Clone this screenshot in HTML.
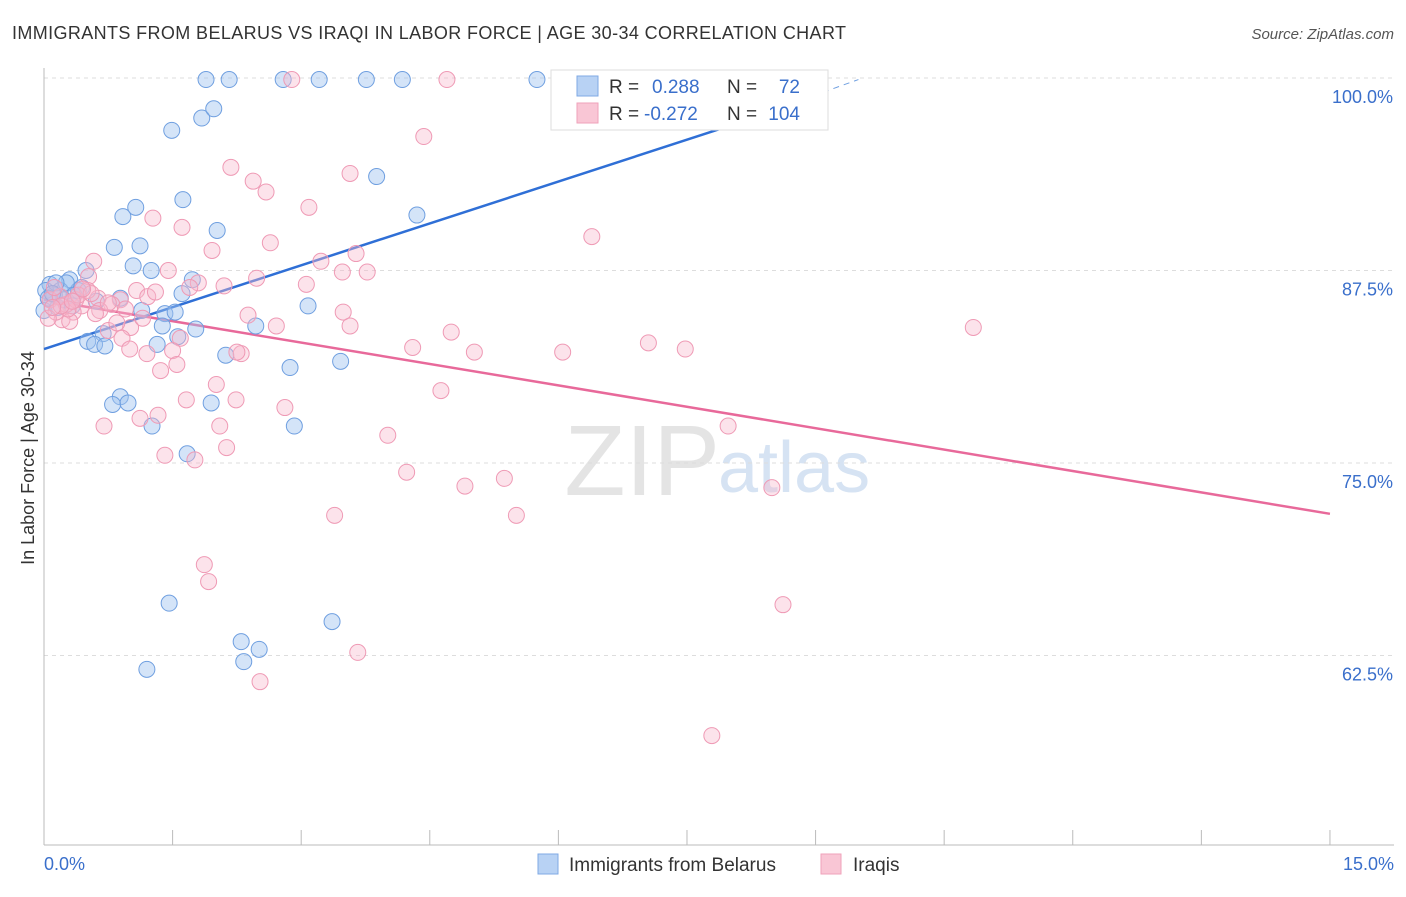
<!DOCTYPE html>
<html><head><meta charset="utf-8"><style>
body{margin:0;background:#fff;font-family:"Liberation Sans",sans-serif;}
svg text{font-family:"Liberation Sans",sans-serif;}
</style></head><body>
<svg id="chart" width="1406" height="892" xmlns="http://www.w3.org/2000/svg">
<text x="12" y="39" font-size="18" fill="#333" textLength="834" lengthAdjust="spacing">IMMIGRANTS FROM BELARUS VS IRAQI IN LABOR FORCE | AGE 30-34 CORRELATION CHART</text>
<text x="1394" y="39" font-size="15" fill="#555" font-style="italic" text-anchor="end">Source: ZipAtlas.com</text>
<text x="720" y="495" font-size="100" fill="#e4e4e4" text-anchor="end" font-family="Liberation Serif">ZIP</text>
<text x="718" y="492" font-size="72" fill="#d6e3f3">atlas</text>
<text transform="translate(34,458) rotate(-90)" font-size="18" fill="#333" text-anchor="middle">In Labor Force | Age 30-34</text>
<g id="grid"></g><g id="ticks"></g><g id="trend"></g><g id="pts"></g>
<g>
<rect x="551" y="70" width="277" height="60" fill="#fff" stroke="#ddd"/>
<rect x="577" y="76" width="21" height="20" fill="#b8d2f4" stroke="#7fa9e4"/>
<rect x="577" y="103" width="21" height="20" fill="#f9c6d5" stroke="#efa2ba"/>
<text x="609" y="93" font-size="19" fill="#333">R =</text>
<text x="652" y="93" font-size="19" fill="#3a6fcb">0.288</text>
<text x="727" y="93" font-size="19" fill="#333">N =</text>
<text x="800" y="93" font-size="19" fill="#3a6fcb" text-anchor="end">72</text>
<text x="609" y="120" font-size="19" fill="#333">R =</text>
<text x="644" y="120" font-size="19" fill="#3a6fcb">-0.272</text>
<text x="727" y="120" font-size="19" fill="#333">N =</text>
<text x="800" y="120" font-size="19" fill="#3a6fcb" text-anchor="end">104</text>
</g>
<g>
<rect x="538" y="854" width="20" height="20" fill="#b8d2f4" stroke="#7fa9e4"/>
<text x="569" y="871" font-size="19" fill="#333">Immigrants from Belarus</text>
<rect x="821" y="854" width="20" height="20" fill="#f9c6d5" stroke="#efa2ba"/>
<text x="853" y="871" font-size="19" fill="#333">Iraqis</text>
</g>
</svg>
<script>
const yTicks=[62.5,75,87.5,100];
const yTickLabels=["62.5%","75.0%","87.5%","100.0%"];
const xTicks=[0,1.5,3,4.5,6,7.5,9,10.5,12,13.5,15];
const blueX=[1.89,2.16,2.79,3.21,3.76,4.18,5.75,6.09,1.49,1.84,1.98,3.88,1.62,0.92,1.07,4.35,2.02,0.82,1.12,1.04,1.25,1.73,1.61,0.49,0.30,0.07,0.19,0.12,0.40,0.61,0.89,1.14,1.41,1.53,1.38,1.77,2.47,3.08,0.69,0.51,0.59,0.71,1.56,1.32,2.12,2.87,3.46,0.89,0.80,0.98,1.95,1.26,2.92,1.67,1.46,3.36,2.30,2.51,2.33,1.20,0.02,0.07,0,0.26,0.35,0.16,0.44,0.05,0.14,0.23,0.33,0.10];
const blueY=[99.9,99.9,99.9,99.9,99.9,99.9,99.9,99.9,96.6,97.4,98.0,93.6,92.1,91.0,91.6,91.1,90.1,89.0,89.1,87.8,87.5,86.9,86.0,87.5,86.9,86.6,86.2,85.9,86.2,85.5,85.7,84.9,84.7,84.8,83.9,83.7,83.9,85.2,83.4,82.9,82.7,82.6,83.2,82.7,82.0,81.2,81.6,79.3,78.8,78.9,78.9,77.4,77.4,75.6,65.9,64.7,63.4,62.9,62.1,61.6,86.2,85.6,84.9,86.7,85.9,85.1,86.4,85.7,86.7,85.6,85.2,86.0];
const pinkX=[2.89,4.70,4.43,2.18,3.57,2.44,2.59,3.09,1.27,1.61,6.39,2.64,1.96,3.64,3.23,3.48,3.77,0.58,0.52,1.45,2.48,1.80,2.10,3.06,1.08,1.21,0.89,0.63,0.79,0.44,0.34,0.21,2.38,3.49,10.84,2.71,3.57,4.75,1.01,0.75,0.91,1.00,1.20,1.59,1.50,2.30,4.30,5.02,6.05,7.05,7.48,1.36,1.55,2.01,4.63,1.66,2.24,1.33,1.12,2.81,0.70,2.05,7.98,4.01,2.13,1.41,1.76,4.23,4.91,5.37,8.49,3.39,5.51,1.87,1.92,8.62,3.66,2.52,7.79,0.07,0.14,0.26,0.05,0.19,0.37,0.51,0.30,0.65,0.12,0.40,0.95,1.15,0.28,0.55,1.70,2.25,0.85,0.45,1.30,0.60,0.20,0.33,0.75,0.10];
const pinkY=[99.9,99.9,96.2,94.2,93.8,93.3,92.6,91.6,90.9,90.3,89.7,89.3,88.8,88.6,88.1,87.4,87.4,88.1,87.1,87.5,87.0,86.7,86.5,86.6,86.2,85.8,85.6,85.7,85.3,85.2,84.8,84.3,84.6,84.8,83.8,83.9,83.9,83.5,83.8,83.6,83.1,82.4,82.1,83.1,82.3,82.1,82.5,82.2,82.2,82.8,82.4,81.0,81.4,80.1,79.7,79.1,79.1,78.1,77.9,78.6,77.4,77.4,77.4,76.8,76.0,75.5,75.2,74.4,73.5,74.0,73.4,71.6,71.6,68.4,67.3,65.8,62.7,60.8,57.3,85.6,84.8,85.3,84.4,85.8,85.6,86.2,84.2,84.9,86.4,85.9,85.0,84.4,85.0,86.0,86.4,82.2,84.1,86.3,86.1,84.7,85.2,85.5,85.4,85.1];
const blueTrend=[[0,82.4],[8.0,96.9],[9.5,99.9]];
const pinkTrend=[[0,85.6],[15,71.7]];
const X=v=>44+v*85.73, Y=v=>78+(100-v)*15.4;
const NS="http://www.w3.org/2000/svg";
function mk(p,t,a){const e=document.createElementNS(NS,t);for(const k in a)e.setAttribute(k,a[k]);document.getElementById(p).appendChild(e);return e;}
yTicks.forEach((t,i)=>{
 const l=mk('grid','line',{x1:44,x2:1394,y1:Y(t),y2:Y(t),stroke:'#ddd','stroke-dasharray':'4,4'});
 
 
 const tx=mk('grid','text',{x:1393,y:Y(t)+25,'font-size':18,fill:'#3a6fcb','text-anchor':'end'});tx.textContent=yTickLabels[i];
 
 
});
let ax=mk('ticks','line',{x1:44,x2:44,y1:68,y2:845,stroke:'#bbb'});


let bx=mk('ticks','line',{x1:44,x2:1394,y1:845,y2:845,stroke:'#bbb'});


xTicks.forEach(t=>{const l=mk('ticks','line',{x1:X(t),x2:X(t),y1:830,y2:845,stroke:'#bbb'});
 
 });
let x0=mk('ticks','text',{x:44,y:870,'font-size':18,fill:'#3a6fcb'});x0.textContent='0.0%';


let x1=mk('ticks','text',{x:1394,y:870,'font-size':18,fill:'#3a6fcb','text-anchor':'end'});x1.textContent='15.0%';


blueX.forEach((v,i)=>{const c=mk('pts','circle',{cx:X(v),cy:Y(blueY[i]),r:8,fill:'rgba(160,195,240,0.45)',stroke:'#6f9fe0','stroke-width':1});
 
 });
pinkX.forEach((v,i)=>{const c=mk('pts','circle',{cx:X(v),cy:Y(pinkY[i]),r:8,fill:'rgba(248,185,205,0.4)',stroke:'#ef9ab5','stroke-width':1});
 
 });
let bl=mk('trend','line',{x1:X(blueTrend[0][0]),y1:Y(blueTrend[0][1]),x2:X(blueTrend[1][0]),y2:Y(blueTrend[1][1]),stroke:'#2f6fd6','stroke-width':2.5});


let bd=mk('trend','line',{x1:X(blueTrend[1][0]),y1:Y(blueTrend[1][1]),x2:X(blueTrend[2][0]),y2:Y(blueTrend[2][1]),stroke:'#6f9fe0','stroke-width':1,'stroke-dasharray':'6,5'});


let pl=mk('trend','line',{x1:X(pinkTrend[0][0]),y1:Y(pinkTrend[0][1]),x2:X(pinkTrend[1][0]),y2:Y(pinkTrend[1][1]),stroke:'#e8699a','stroke-width':2.5});


</script>
</body></html>
